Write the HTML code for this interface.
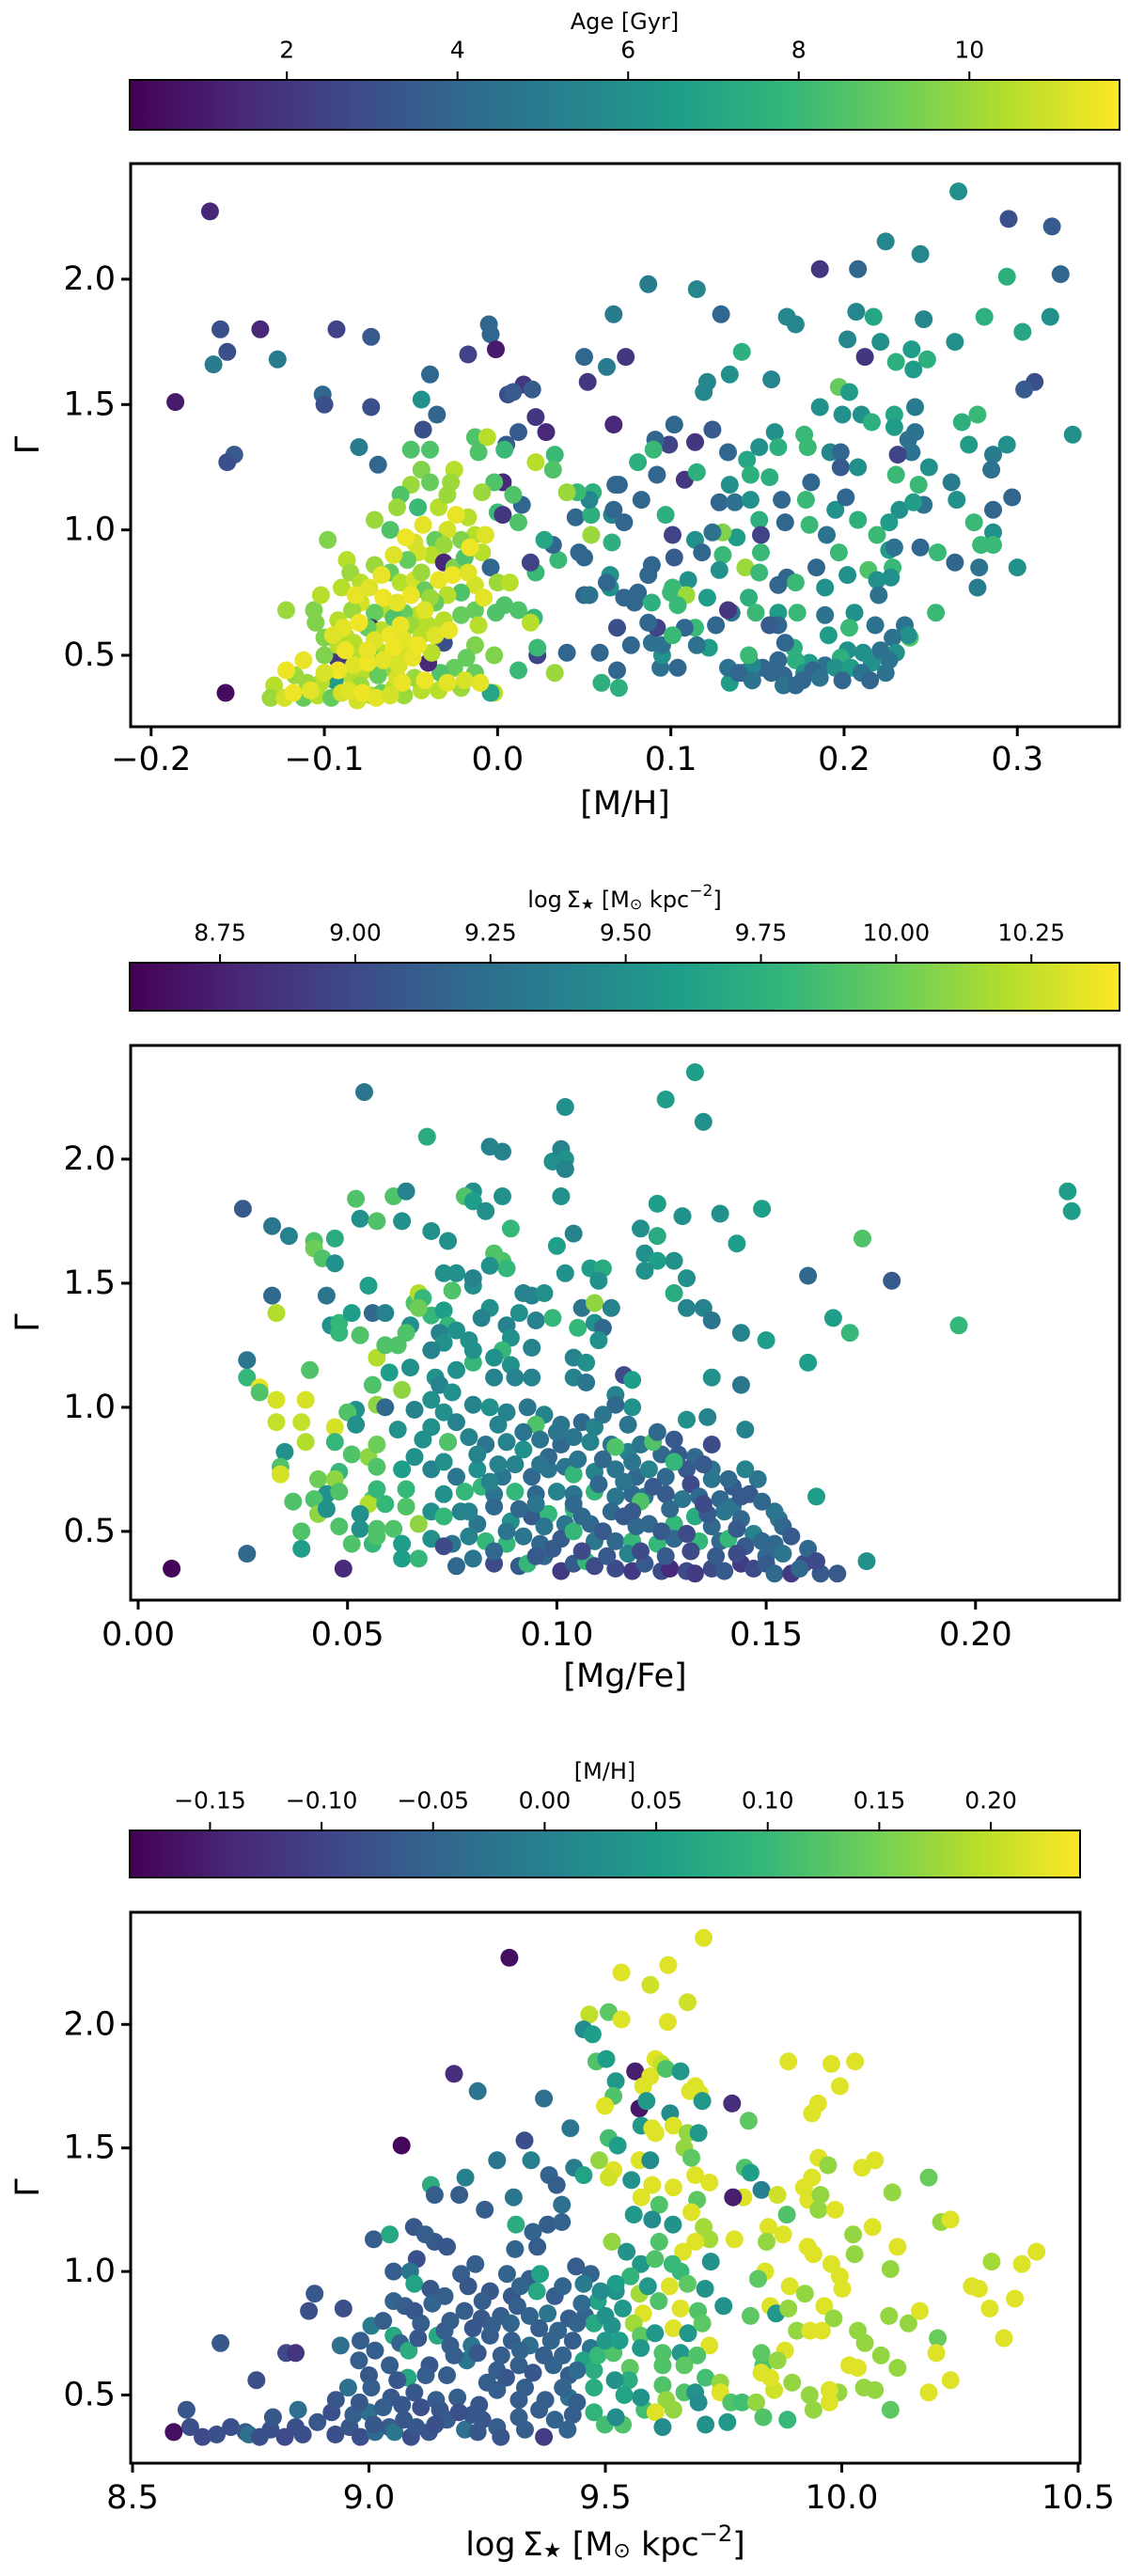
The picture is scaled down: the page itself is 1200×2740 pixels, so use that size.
<!DOCTYPE html>
<html><head><meta charset="utf-8">
<style>
html,body{margin:0;padding:0;background:#fff;}
svg{display:block;font-family:"DejaVu Sans","Liberation Sans",sans-serif;}
</style></head>
<body>
<svg id="fig" width="1200" height="2740" viewBox="0 0 1200 2740" xmlns="http://www.w3.org/2000/svg">
<defs>
<linearGradient id="viridis" x1="0" x2="1" y1="0" y2="0">
<stop offset="0" stop-color="#440154"/><stop offset="0.111" stop-color="#482878"/><stop offset="0.222" stop-color="#3e4989"/><stop offset="0.333" stop-color="#31688e"/><stop offset="0.444" stop-color="#26828e"/><stop offset="0.556" stop-color="#1f9e89"/><stop offset="0.667" stop-color="#35b779"/><stop offset="0.778" stop-color="#6ece58"/><stop offset="0.889" stop-color="#b5de2b"/><stop offset="1" stop-color="#fde725"/>
</linearGradient>
</defs>
</svg>
<script>
// ---------- data ----------
// Panel 1: [M/H], Gamma, Age
const p1Points = [
[-0.166,2.27,1.5],[-0.186,1.51,1],[-0.157,0.35,0.5],[-0.160,1.80,3],[-0.156,1.71,3],[-0.164,1.66,5],[-0.152,1.30,3.5],[-0.156,1.27,3],[-0.137,1.80,1.5],[-0.127,1.68,5],
[-0.093,1.80,2.5],[-0.073,1.77,3.5],[-0.101,1.54,4],[-0.100,1.50,3],[-0.073,1.49,3],[-0.080,1.33,5],[-0.069,1.26,4],[-0.039,1.62,4],[-0.044,1.52,6],[-0.035,1.46,4],
[-0.043,1.40,3],[-0.005,1.82,4],[-0.004,1.78,4],[-0.001,1.72,1],[-0.017,1.70,2.5],[0.015,1.58,2],[0.006,1.54,3],[0.009,1.55,3.5],[0.020,1.56,3.5],[0.022,1.45,2],
[0.028,1.39,1.5],[0.012,1.39,3.5],[0.005,1.34,3.5],[0.050,1.69,4],[0.052,1.59,2],[0.063,1.65,5],[0.074,1.69,2],[0.067,1.42,1.5],[0.087,1.98,5],[0.115,1.96,5.5],
[0.067,1.86,5],[0.129,1.86,4],[0.167,1.85,5.5],[0.172,1.82,5.5],[0.186,2.04,2],[0.208,2.04,4],[0.224,2.15,5.5],[0.244,2.10,5.5],[0.266,2.35,6],[0.295,2.24,3],
[0.320,2.21,3.5],[0.325,2.02,4],[0.294,2.01,7.5],[0.281,1.85,7.5],[0.303,1.79,7],[0.319,1.85,6],[0.310,1.59,3],[0.304,1.56,3.5],[0.332,1.38,6],[0.264,1.75,6],
[0.246,1.84,5.5],[0.207,1.87,5.5],[0.217,1.85,7],[0.202,1.76,5.5],[0.221,1.75,6],[0.212,1.69,2],[0.230,1.67,7.5],[0.239,1.72,6.5],[0.240,1.64,6.5],[0.248,1.68,7.5],
[0.141,1.71,7.5],[0.134,1.62,6],[0.121,1.59,5.5],[0.119,1.55,5.5],[0.158,1.60,5.5],[0.197,1.57,9],[0.203,1.55,6.5],[0.186,1.49,6],[0.199,1.46,6],[0.210,1.46,6],
[0.216,1.43,7.5],[0.229,1.46,7],[0.241,1.49,5],[0.229,1.41,6.5],[0.241,1.39,4.5],[0.237,1.36,4.5],[0.239,1.31,4.5],[0.231,1.30,2.5],[0.249,1.25,6],[0.268,1.43,7.5],
[0.277,1.46,8],[0.272,1.34,6.5],[0.294,1.34,6],[0.286,1.30,5],[0.285,1.24,4.5],[0.262,1.19,5],[0.265,1.12,6],[0.297,1.13,4],[0.286,1.08,4],[0.275,1.03,8],
[0.286,0.99,6],[0.279,0.94,8],[0.286,0.94,8],[0.300,0.85,6],[0.278,0.85,4.5],[0.264,0.87,4],[0.277,0.77,5],[0.254,0.91,8],[0.253,0.67,8],[0.238,0.57,8.5],[0.244,0.93,4],
[0.133,1.31,4],[0.151,1.33,6],[0.160,1.39,6],[0.162,1.33,7.5],[0.177,1.38,8],[0.179,1.33,8],[0.124,1.40,3.5],[0.114,1.35,2],[0.102,1.42,4],[0.099,1.34,2.5],
[0.091,1.36,4],[0.092,1.22,4],[0.070,1.18,4],[0.108,1.20,2],[0.115,1.23,7.5],[0.081,1.27,7.5],[0.090,1.32,8],[0.144,1.28,7],[0.146,1.22,7.5],[0.157,1.21,7.5],
[0.134,1.18,6],[0.181,1.19,4],[0.192,1.31,5.5],[0.198,1.31,4],[0.198,1.25,3.5],[0.208,1.25,6],[0.230,1.22,8],[0.243,1.18,8],[0.128,1.11,4],[0.137,1.11,4.5],
[0.146,1.12,6],[0.164,1.12,4],[0.178,1.12,8],[0.195,1.08,6],[0.201,1.13,4],[0.208,1.04,7.5],[0.232,1.08,6],[0.246,1.10,4.5],[0.240,1.11,6.5],[0.226,1.03,6.5],
[0.151,1.04,7.5],[0.166,1.03,4],[0.152,0.98,2.5],[0.138,0.97,6.5],[0.130,0.99,9.5],[0.124,0.99,4.5],[0.114,0.96,6],[0.101,0.98,2.5],[0.097,1.06,7.5],[0.066,0.95,7.5],
[0.054,0.98,10],[0.047,0.91,4],[0.050,0.89,4],[0.045,1.05,4],[0.054,1.06,7.5],[0.066,1.06,5.5],[0.073,1.03,4],[0.067,1.08,4],[0.083,1.12,4],[0.055,1.15,7.5],
[0.053,1.12,5.5],[0.068,1.18,4],[0.046,1.15,8],[0.180,1.02,8],[0.190,0.98,4.5],[0.197,0.91,8],[0.219,0.98,8],[0.226,0.92,6.5],[0.229,0.93,4.5],[0.118,0.91,4],
[0.102,0.89,3.5],[0.130,0.90,8],[0.152,0.91,8],[0.143,0.85,10],[0.151,0.83,8],[0.128,0.84,6],[0.167,0.81,4],[0.172,0.79,8],[0.162,0.78,4],[0.184,0.85,4],
[0.202,0.82,6],[0.214,0.84,8.5],[0.219,0.80,6],[0.228,0.85,8],[0.227,0.81,6],[0.110,0.80,6],[0.101,0.77,8],[0.089,0.86,4],[0.087,0.82,4],[0.081,0.75,4],
[0.065,0.82,6],[0.065,0.77,6],[0.063,0.79,4],[0.073,0.73,4],[0.079,0.71,4],[0.050,0.74,4],[0.053,0.74,4.5],[0.089,0.71,7.5],[0.100,0.75,8],[0.109,0.74,10],
[0.104,0.70,8],[0.121,0.73,6.5],[0.145,0.73,7.5],[0.135,0.67,4.5],[0.149,0.67,8],[0.162,0.67,6.5],[0.173,0.67,8],[0.189,0.77,6],[0.189,0.66,4.5],[0.206,0.67,6],
[0.220,0.74,4.5],[0.218,0.62,4.5],[0.235,0.62,4.5],[0.237,0.58,6],[0.228,0.57,4.5],[0.230,0.51,6],[0.226,0.48,4.5],[0.224,0.43,4.5],[0.216,0.47,6],[0.211,0.51,6],
[0.202,0.52,6],[0.198,0.49,7.5],[0.203,0.61,8],[0.191,0.58,6.5],[0.189,0.46,4.5],[0.195,0.45,6],[0.204,0.45,6.5],[0.180,0.47,6.5],[0.172,0.48,7.5],[0.171,0.53,7.5],
[0.166,0.55,4],[0.162,0.48,4],[0.165,0.42,4],[0.165,0.38,4.5],[0.172,0.38,4],[0.177,0.43,6],[0.162,0.62,4],[0.157,0.62,3.5],[0.153,0.45,4],[0.141,0.43,4],
[0.147,0.46,5.5],[0.134,0.39,6.5],[0.133,0.45,4.5],[0.133,0.68,2],[0.145,0.50,8],[0.126,0.62,4],[0.122,0.53,6.5],[0.115,0.54,4.5],[0.114,0.61,8],[0.108,0.61,4],
[0.104,0.45,4],[0.094,0.45,4.5],[0.095,0.50,6],[0.095,0.54,4.5],[0.089,0.55,4.5],[0.092,0.61,2.5],[0.087,0.63,4],[0.101,0.58,8],[0.077,0.54,4],[0.069,0.61,3],
[0.069,0.44,4],[0.059,0.51,4],[0.060,0.39,7.5],[0.070,0.37,7.5],[0.040,0.51,4],[0.023,0.50,2.5],[0.012,0.44,8],[0.023,0.53,8],[0.033,0.43,10],[0.021,0.65,8],
[0.022,0.83,8],[0.019,0.87,2.5],[0.035,0.88,8],[0.032,0.94,4],[0.027,0.96,7],[0.040,1.15,10],[0.033,1.30,8],[0.022,1.27,10.5],[0.032,1.24,8.5],[0.014,1.10,4],
[0.182,0.44,4],[0.186,0.41,4.5],[0.176,0.40,4],[0.199,0.40,4],[0.210,0.43,4.5],[0.215,0.40,4],[0.221,0.52,4.5],[0.158,0.43,4],[0.147,0.40,4.5],[0.139,0.43,4],
[-0.050,1.32,8.5],[-0.039,1.32,8.5],[-0.044,1.24,9.5],[-0.050,1.18,10],[-0.039,1.19,9],[-0.056,1.14,8.5],[-0.046,1.09,8],[-0.058,1.09,10],[-0.034,1.09,10.5],[-0.029,1.14,10],
[-0.025,1.24,10.5],[-0.027,1.19,10],[-0.013,1.37,8.5],[-0.006,1.37,10.5],[-0.011,1.31,8.5],[0.004,1.32,8],[0.003,1.19,1.5],[-0.002,1.19,8.5],[-0.009,1.15,10],[0.009,1.14,8.5],
[0.000,1.07,8],[0.003,1.06,2],[0.012,1.03,8.5],[-0.017,1.05,10.5],[-0.013,0.98,10.5],[-0.021,0.96,9.5],[-0.029,1.00,11],[-0.036,0.96,9],[-0.038,0.90,10.5],[-0.031,0.94,10],
[-0.048,0.95,11],[-0.046,0.91,11],[-0.052,0.88,9],[-0.062,1.00,8.5],[-0.071,1.04,10],[-0.098,0.96,9.5],[-0.087,0.88,10.5],[-0.085,0.83,10],[-0.079,0.79,10.5],[-0.090,0.77,10.5],
[-0.071,0.86,10],[-0.062,0.83,9],[-0.056,0.79,10.5],[-0.048,0.80,11],[-0.044,0.83,10],[-0.042,0.76,9],[-0.031,0.87,1.5],[-0.025,0.85,9.5],[-0.019,0.89,8.5],[-0.009,0.91,10.5],
[-0.004,0.85,4],[0.000,0.79,10],[0.007,0.79,10.5],[-0.013,0.78,11],[-0.021,0.75,8.5],[-0.029,0.74,10.5],[-0.036,0.71,9],[-0.039,0.73,10],[-0.046,0.66,10.5],[-0.054,0.67,9],
[-0.063,0.68,10.5],[-0.071,0.67,9],[-0.079,0.71,11],[-0.084,0.68,10],[-0.092,0.64,10.5],[-0.106,0.68,9.5],[-0.105,0.63,9.5],[-0.122,0.68,10],[-0.073,0.61,1.5],[-0.067,0.60,10.5],
[-0.060,0.65,8.5],[-0.050,0.62,10],[-0.040,0.62,10.5],[-0.031,0.64,10.5],[-0.021,0.66,9],[-0.013,0.68,9],[-0.011,0.62,10.5],[-0.001,0.67,8.5],[0.004,0.70,8.5],[0.012,0.68,8.5],
[0.019,0.63,10.5],[-0.013,0.54,9.5],[-0.018,0.49,9],[-0.025,0.45,9],[-0.033,0.43,8.5],[-0.031,0.55,3],[-0.040,0.47,1.5],[-0.038,0.51,10.5],[-0.044,0.58,10.5],[-0.050,0.53,11],
[-0.058,0.50,11],[-0.067,0.51,10.5],[-0.065,0.45,10],[-0.073,0.49,9],[-0.081,0.50,10.5],[-0.092,0.48,2],[-0.100,0.50,9.5],[-0.083,0.55,10.5],[-0.092,0.54,10.5],[-0.077,0.44,10.5],
[-0.085,0.42,10.5],[-0.094,0.40,6.5],[-0.102,0.39,10.5],[-0.110,0.39,10],[-0.117,0.42,10],[-0.129,0.38,10.5],[-0.131,0.33,10],[-0.123,0.33,11],[-0.112,0.33,9],[-0.104,0.34,10.5],
[-0.096,0.33,9],[-0.090,0.35,11],[-0.081,0.32,11],[-0.073,0.34,10.5],[-0.067,0.35,9],[-0.060,0.37,10.5],[-0.054,0.34,10],[-0.044,0.36,10.5],[-0.034,0.36,10.5],[-0.021,0.37,10],
[-0.013,0.43,9],[-0.002,0.35,10.5],[-0.004,0.35,7],[-0.002,0.50,9.5],[-0.079,0.38,10],[-0.069,0.42,9],[-0.058,0.41,11],[-0.048,0.41,10],[-0.075,0.61,9],[-0.088,0.58,10.5],
[-0.100,0.57,9.5],[-0.102,0.74,10.5],
[-0.086,0.36,11.2],[-0.078,0.35,11.5],[-0.070,0.33,11.3],[-0.062,0.34,11],[-0.055,0.39,11.4],[-0.083,0.46,11.2],[-0.075,0.47,11.5],[-0.066,0.48,11.3],[-0.057,0.46,11.1],[-0.049,0.49,11.4],
[-0.089,0.61,11.3],[-0.080,0.63,11.5],[-0.071,0.56,11.2],[-0.062,0.58,11.5],[-0.054,0.56,11.3],[-0.046,0.54,11.5],[-0.036,0.58,11.2],[-0.028,0.60,11.4],[-0.082,0.74,11.4],[-0.074,0.77,11.2],
[-0.066,0.73,11.5],[-0.058,0.71,11.3],[-0.050,0.74,11.5],[-0.042,0.68,11.2],[-0.034,0.80,11.4],[-0.026,0.82,11.5],[-0.017,0.83,11.2],[-0.008,0.73,11.3],[-0.067,0.82,11.4],[-0.060,0.90,11.2],
[-0.053,0.97,11.5],[-0.043,1.02,11.3],[-0.024,1.06,11.4],[-0.016,0.93,11.5],[-0.007,0.98,11.2],[-0.092,0.44,11.5],[-0.108,0.36,11.3],[-0.118,0.35,11.5],[-0.100,0.43,11.1],[-0.056,0.62,11.4],
[-0.042,0.40,11.5],[-0.029,0.39,11.3],[-0.019,0.40,11.1],[-0.010,0.39,11.3],[-0.060,0.53,11.5],[-0.075,0.52,11.4],[-0.088,0.52,11.5],[-0.095,0.58,11.2],[-0.112,0.48,11.4],[-0.122,0.44,11.5]
];
// Panel 2: [Mg/Fe], Gamma, log Sigma
const p2Points = [
[0.008,0.35,8.6],[0.049,0.35,8.8],[0.026,0.41,9.2],[0.025,1.80,9.1],[0.032,1.73,9.3],[0.036,1.69,9.4],[0.032,1.45,9.2],[0.033,1.38,10.2],[0.026,1.19,9.3],[0.026,1.12,9.8],
[0.029,1.08,10.35],[0.029,1.06,9.9],[0.033,1.03,10.3],[0.040,1.03,10.3],[0.033,0.94,10.25],[0.039,0.94,10.25],[0.040,0.86,10.2],[0.035,0.82,9.5],[0.034,0.76,9.9],[0.034,0.73,10.3],
[0.037,0.62,9.9],[0.039,0.50,9.9],[0.039,0.43,9.6],[0.042,1.67,9.9],[0.042,1.64,10.0],[0.044,1.60,9.9],[0.047,1.68,9.7],[0.047,1.58,9.5],[0.045,1.45,9.3],[0.046,1.33,9.5],
[0.048,1.34,9.8],[0.048,1.30,9.8],[0.041,1.15,9.9],[0.052,1.84,9.9],[0.053,1.76,9.5],[0.054,2.27,9.3],[0.057,1.75,9.9],[0.061,1.85,9.9],[0.064,1.87,9.4],[0.063,1.75,9.5],
[0.055,1.49,9.6],[0.051,1.38,9.6],[0.056,1.38,9.2],[0.059,1.38,9.4],[0.053,1.29,9.9],[0.057,1.20,10.2],[0.059,1.25,9.9],[0.062,1.25,9.9],[0.060,1.14,9.6],[0.056,1.09,9.9],
[0.057,1.01,10.1],[0.059,1.00,9.2],[0.052,0.99,9.5],[0.050,0.98,9.9],[0.052,0.93,9.5],[0.047,0.92,10.3],[0.047,0.86,9.8],[0.051,0.81,9.9],[0.055,0.80,10.1],[0.057,0.85,10.0],
[0.057,0.76,9.9],[0.048,0.74,9.8],[0.043,0.71,10.0],[0.047,0.71,10.1],[0.045,0.65,9.5],[0.048,0.66,9.9],[0.042,0.63,9.9],[0.043,0.57,10.1],[0.045,0.59,9.5],[0.048,0.52,9.9],
[0.051,0.45,9.9],[0.056,0.45,9.8],[0.056,0.63,9.9],[0.055,0.61,10.2],[0.059,0.61,9.8],[0.057,0.67,9.8],[0.053,0.57,9.5],[0.053,0.51,9.5],[0.057,0.51,9.9],[0.061,0.51,9.9],
[0.057,0.48,9.9],[0.063,0.45,9.6],[0.063,0.39,9.6],[0.067,0.39,9.8],[0.064,0.60,9.9],[0.064,0.67,9.8],[0.067,0.53,10.1],[0.063,0.75,9.6],[0.066,0.80,9.5],[0.062,0.91,9.5],
[0.066,0.99,9.4],[0.063,1.07,10.1],[0.065,1.16,9.5],[0.065,1.33,9.5],[0.064,1.30,9.9],[0.066,1.42,9.9],[0.067,1.46,10.2],[0.068,1.44,9.8],[0.070,1.37,9.8],[0.067,1.40,10.0],
[0.069,2.09,9.7],[0.070,1.71,9.5],[0.074,1.67,9.5],[0.073,1.54,9.5],[0.076,1.54,9.5],[0.080,1.49,9.5],[0.080,1.52,9.4],[0.075,1.47,9.9],[0.073,1.39,9.6],[0.074,1.33,9.8],
[0.072,1.30,9.4],[0.076,1.31,9.5],[0.073,1.26,9.5],[0.070,1.23,9.4],[0.071,1.12,9.5],[0.072,1.09,9.4],[0.070,1.03,9.5],[0.075,1.06,9.5],[0.076,1.15,9.5],[0.080,1.18,9.8],
[0.080,1.23,9.5],[0.079,1.27,9.5],[0.080,1.87,9.5],[0.078,1.85,9.9],[0.080,1.83,9.6],[0.083,1.79,9.5],[0.084,2.05,9.4],[0.087,2.03,9.4],[0.087,1.85,9.5],[0.089,1.72,9.8],
[0.085,1.62,9.9],[0.087,1.59,9.9],[0.088,1.56,9.8],[0.084,1.57,9.5],[0.084,1.40,9.5],[0.082,1.36,9.4],[0.088,1.33,9.4],[0.089,1.28,9.5],[0.087,1.23,9.8],[0.085,1.20,9.5],
[0.089,1.17,9.5],[0.085,1.12,9.4],[0.090,1.12,9.4],[0.094,1.12,9.4],[0.094,1.24,9.4],[0.091,1.38,9.5],[0.095,1.35,9.4],[0.094,1.45,9.4],[0.092,1.46,9.4],[0.097,1.46,9.5],
[0.099,1.36,9.8],[0.099,1.99,9.5],[0.101,2.04,9.4],[0.102,2.00,9.5],[0.102,1.96,9.4],[0.102,2.21,9.5],[0.101,1.85,9.5],[0.100,1.65,9.6],[0.104,1.70,9.4],[0.102,1.54,9.5],
[0.106,1.40,9.3],[0.105,1.32,9.8],[0.108,1.56,9.6],[0.111,1.56,9.7],[0.110,1.51,9.5],[0.109,1.42,10.1],[0.109,1.34,9.5],[0.111,1.32,9.2],[0.110,1.27,9.5],[0.113,1.40,9.4],
[0.104,1.20,9.4],[0.107,1.18,9.5],[0.104,1.12,9.4],[0.107,1.10,9.3],[0.116,1.13,9.0],[0.118,1.11,9.6],[0.114,1.05,9.4],[0.118,1.00,9.5],[0.114,1.01,9.2],[0.120,1.72,9.5],
[0.124,1.69,9.7],[0.121,1.62,9.5],[0.124,1.82,9.6],[0.124,1.59,9.6],[0.128,1.59,9.5],[0.121,1.55,9.5],[0.131,1.52,9.5],[0.128,1.46,9.7],[0.130,1.77,9.5],[0.126,2.24,9.6],
[0.133,2.35,9.6],[0.135,2.15,9.5],[0.139,1.78,9.5],[0.149,1.80,9.6],[0.143,1.66,9.6],[0.131,1.40,9.4],[0.135,1.40,9.4],[0.137,1.35,9.3],[0.144,1.30,9.4],[0.150,1.27,9.6],
[0.137,1.12,9.5],[0.144,1.09,9.3],[0.131,0.95,9.5],[0.136,0.96,9.4],[0.145,0.91,9.4],[0.137,0.85,9.0],[0.160,1.53,9.2],[0.180,1.51,9.1],[0.166,1.36,9.6],[0.170,1.30,9.8],
[0.160,1.18,9.6],[0.173,1.68,9.9],[0.196,1.33,9.8],[0.222,1.87,9.6],[0.223,1.79,9.6],[0.162,0.64,9.6],[0.174,0.38,9.5],
[0.080,1.01,9.4],[0.084,1.00,9.5],[0.088,0.98,9.4],[0.093,1.00,9.3],[0.097,0.97,9.4],[0.101,0.93,9.3],[0.106,0.94,9.2],[0.109,0.92,9.4],[0.095,0.93,9.9],[0.073,0.98,9.5],
[0.076,0.94,9.4],[0.070,0.92,9.5],[0.068,0.87,9.5],[0.074,0.86,9.4],[0.079,0.88,9.4],[0.083,0.85,9.3],[0.088,0.86,9.4],[0.092,0.83,9.5],[0.096,0.87,9.3],[0.101,0.85,9.2],
[0.104,0.88,9.3],[0.108,0.86,9.4],[0.113,0.85,9.3],[0.117,0.82,9.4],[0.120,0.85,9.3],[0.125,0.81,9.2],[0.129,0.81,9.1],[0.133,0.80,9.2],[0.114,0.84,9.9],[0.123,0.86,9.9],
[0.074,0.86,9.9],[0.070,0.75,9.4],[0.073,0.78,9.5],[0.076,0.72,9.3],[0.081,0.75,9.5],[0.087,0.72,9.3],[0.090,0.77,9.4],[0.094,0.72,9.2],[0.098,0.75,9.3],[0.102,0.76,9.3],
[0.104,0.73,9.8],[0.109,0.74,9.4],[0.114,0.75,9.3],[0.119,0.72,9.2],[0.122,0.75,9.4],[0.126,0.72,9.2],[0.131,0.75,9.1],[0.137,0.75,9.3],[0.128,0.78,9.8],[0.145,0.75,9.4],
[0.148,0.71,9.3],[0.137,0.71,9.3],[0.132,0.69,9.0],[0.073,0.65,9.5],[0.078,0.66,9.8],[0.082,0.68,9.8],[0.085,0.65,9.3],[0.090,0.66,9.8],[0.095,0.65,9.2],[0.100,0.66,9.4],
[0.104,0.65,9.3],[0.109,0.66,9.8],[0.114,0.64,9.3],[0.118,0.65,9.2],[0.121,0.64,9.3],[0.126,0.65,9.1],[0.130,0.63,9.3],[0.134,0.64,9.2],[0.139,0.63,9.2],[0.142,0.60,9.3],
[0.146,0.65,9.1],[0.142,0.68,9.1],[0.144,0.64,9.1],[0.070,0.58,9.5],[0.073,0.56,9.8],[0.077,0.58,9.4],[0.081,0.53,9.3],[0.085,0.60,9.2],[0.089,0.54,9.5],[0.094,0.56,9.1],
[0.098,0.57,9.8],[0.102,0.53,9.3],[0.104,0.59,9.8],[0.108,0.53,9.2],[0.113,0.58,9.2],[0.116,0.56,9.1],[0.120,0.62,9.9],[0.122,0.53,9.2],[0.128,0.53,9.8],[0.133,0.56,9.7],
[0.137,0.52,9.2],[0.140,0.58,9.3],[0.144,0.55,9.2],[0.152,0.58,9.3],[0.153,0.55,9.3],[0.154,0.52,9.2],[0.147,0.49,9.4],[0.070,0.47,9.5],[0.075,0.45,9.3],[0.079,0.48,9.4],
[0.083,0.46,9.8],[0.088,0.45,9.8],[0.092,0.48,9.3],[0.096,0.45,9.2],[0.101,0.47,9.1],[0.104,0.50,9.8],[0.109,0.46,9.3],[0.114,0.46,9.2],[0.118,0.46,9.8],[0.124,0.45,9.8],
[0.128,0.47,9.2],[0.134,0.46,9.8],[0.139,0.46,9.2],[0.141,0.47,9.8],[0.145,0.44,9.1],[0.149,0.46,9.2],[0.152,0.45,9.2],[0.154,0.41,9.3],[0.150,0.40,9.2],[0.073,0.44,9.0],
[0.076,0.36,9.2],[0.080,0.39,9.3],[0.085,0.37,9.0],[0.091,0.36,9.1],[0.093,0.37,9.8],[0.097,0.40,9.2],[0.101,0.34,8.9],[0.104,0.37,9.1],[0.107,0.38,9.8],[0.109,0.36,9.0],
[0.114,0.35,9.0],[0.118,0.34,8.9],[0.121,0.37,9.1],[0.125,0.34,9.0],[0.127,0.35,8.8],[0.131,0.34,9.0],[0.133,0.33,8.9],[0.137,0.35,9.0],[0.140,0.34,9.1],[0.144,0.37,8.9],
[0.147,0.35,9.0],[0.150,0.37,9.1],[0.152,0.33,9.2],[0.156,0.33,8.9],[0.159,0.37,9.0],[0.163,0.33,9.1],[0.167,0.33,9.1],[0.158,0.35,9.2],[0.117,0.41,9.4],
[0.099,0.43,9.1],[0.106,0.42,9.0],[0.112,0.40,9.1],[0.120,0.42,9.0],[0.126,0.40,9.1],[0.132,0.42,9.0],[0.138,0.40,9.1],[0.143,0.41,9.0],[0.111,0.50,9.1],[0.119,0.52,9.2],
[0.125,0.50,9.1],[0.131,0.49,9.0],[0.136,0.57,9.1],[0.127,0.59,9.2],[0.106,0.56,9.2],[0.097,0.52,9.3],[0.091,0.59,9.2],[0.110,0.69,9.2],[0.116,0.70,9.3],[0.123,0.68,9.1],
[0.105,0.79,9.3],[0.111,0.79,9.2],[0.118,0.78,9.3],[0.098,0.80,9.2],[0.092,0.90,9.3],[0.100,0.90,9.3],[0.086,0.93,9.4],[0.111,0.97,9.3],[0.117,0.93,9.3],[0.124,0.90,9.2],
[0.128,0.87,9.1],[0.135,0.77,9.1],[0.141,0.71,9.2],[0.149,0.62,9.2],[0.156,0.48,9.1],[0.160,0.43,9.2],[0.162,0.38,9.0],[0.143,0.51,9.1],[0.135,0.61,9.0],[0.081,0.81,9.4],
[0.086,0.77,9.4],[0.096,0.77,9.3],[0.084,0.70,9.4],[0.095,0.61,9.3],[0.088,0.50,9.3],[0.079,0.58,9.4],[0.085,0.42,9.2],[0.095,0.40,9.1],[0.104,0.61,9.2],[0.118,0.58,9.1]
];
// Panel 3: log Sigma, Gamma, [M/H]
const p3Points = [
[9.297,2.27,-0.17],[9.069,1.51,-0.18],[9.180,1.80,-0.13],[9.230,1.73,-0.02],[9.370,1.70,-0.03],[9.329,1.53,-0.08],[9.426,1.58,-0.02],[9.271,1.45,-0.02],[9.343,1.45,0.0],[9.204,1.38,0.0],
[9.131,1.35,0.08],[9.139,1.31,-0.06],[9.191,1.31,-0.06],[9.245,1.25,-0.06],[9.306,1.30,-0.02],[9.381,1.39,-0.05],[9.397,1.35,-0.06],[9.434,1.42,-0.01],[9.454,1.39,0.06],[9.408,1.27,-0.03],
[9.311,1.19,0.08],[9.309,1.09,-0.05],[9.347,1.16,-0.05],[9.378,1.19,-0.06],[9.408,1.20,-0.05],[9.356,1.10,-0.06],[9.095,1.18,-0.07],[9.139,1.12,-0.07],[9.165,1.10,-0.07],[9.119,1.15,-0.06],
[9.010,1.13,-0.06],[9.044,1.15,0.07],[9.101,1.05,-0.08],[9.052,1.00,-0.06],[9.087,1.00,-0.02],[9.096,0.95,0.06],[9.130,0.93,-0.07],[9.195,0.99,-0.06],[9.225,1.03,-0.06],[9.210,0.94,-0.07],
[9.256,0.92,-0.07],[9.292,0.99,-0.05],[9.302,0.90,-0.07],[9.340,0.97,-0.06],[9.362,0.99,0.06],[9.355,0.92,0.07],[9.393,0.90,-0.06],[9.438,1.02,-0.06],[9.469,0.99,-0.05],[9.454,0.95,-0.01],
[9.484,0.88,0.06],[9.522,0.92,0.03],[9.052,0.88,-0.05],[9.076,0.86,-0.06],[9.096,0.84,-0.07],[9.134,0.87,-0.05],[9.172,0.80,-0.06],[9.202,0.84,-0.06],[9.238,0.81,-0.07],[9.279,0.82,-0.06],
[9.314,0.86,-0.06],[9.340,0.82,-0.05],[9.378,0.83,-0.02],[9.423,0.81,-0.06],[9.457,0.82,-0.05],[9.476,0.79,0.07],[8.885,0.91,-0.07],[8.873,0.84,-0.08],[8.946,0.85,-0.08],[9.005,0.78,-0.01],
[9.052,0.74,0.07],[8.940,0.70,-0.03],[8.982,0.72,-0.06],[9.013,0.68,-0.06],[9.066,0.71,-0.05],[9.084,0.68,0.08],[9.104,0.73,-0.07],[9.145,0.74,0.07],[9.172,0.70,-0.06],[9.217,0.70,-0.02],
[9.256,0.74,-0.06],[9.302,0.72,-0.06],[9.340,0.70,-0.03],[9.385,0.72,-0.05],[9.431,0.72,-0.06],[9.469,0.69,-0.02],[8.686,0.71,-0.07],[8.825,0.67,-0.09],[8.845,0.67,-0.12],[8.762,0.56,-0.08],
[8.979,0.64,-0.06],[9.000,0.58,-0.07],[9.082,0.57,0.07],[9.044,0.62,-0.06],[9.128,0.62,-0.07],[9.165,0.58,-0.06],[9.207,0.64,-0.02],[9.271,0.60,-0.06],[9.317,0.62,-0.06],[9.347,0.59,-0.07],
[9.390,0.62,-0.05],[9.423,0.58,-0.06],[9.454,0.64,0.06],[9.476,0.60,0.08],[8.956,0.53,-0.03],[9.005,0.53,-0.06],[9.047,0.49,-0.07],[9.096,0.51,-0.07],[9.142,0.48,-0.06],[9.187,0.49,-0.06],
[9.233,0.46,-0.07],[9.271,0.52,-0.06],[9.317,0.48,-0.06],[9.373,0.48,-0.06],[9.423,0.49,-0.03],[9.476,0.53,0.08],[8.614,0.44,-0.07],[8.622,0.37,-0.08],[8.587,0.35,-0.17],[8.648,0.33,-0.09],
[8.678,0.34,-0.08],[8.708,0.37,-0.08],[8.739,0.35,-0.07],[8.746,0.34,-0.03],[8.769,0.33,-0.08],[8.792,0.36,-0.08],[8.797,0.41,-0.07],[8.822,0.33,-0.09],[8.845,0.37,-0.08],[8.850,0.44,-0.03],
[8.860,0.34,-0.08],[8.891,0.39,-0.07],[8.921,0.43,-0.08],[8.929,0.34,-0.08],[8.959,0.37,-0.07],[8.967,0.42,-0.06],[9.000,0.43,-0.03],[8.982,0.33,-0.08],[9.013,0.35,-0.04],[9.043,0.37,-0.06],
[9.054,0.35,-0.02],[9.074,0.40,-0.07],[9.089,0.33,-0.08],[9.127,0.35,-0.07],[9.165,0.40,-0.06],[9.203,0.36,-0.03],[9.218,0.42,-0.07],[9.271,0.37,-0.06],[9.279,0.33,-0.07],[9.317,0.41,-0.06],
[9.370,0.33,-0.11],[9.393,0.40,-0.05],[9.431,0.42,-0.06],[9.476,0.43,0.09],[9.499,0.38,0.11],[9.537,0.38,0.12],
[9.466,2.04,0.20],[9.507,2.05,0.13],[9.534,2.02,0.22],[9.454,1.98,0.02],[9.473,1.96,0.05],[9.534,2.21,0.22],[9.595,2.16,0.21],[9.633,2.24,0.22],[9.708,2.35,0.22],[9.674,2.09,0.21],
[9.632,2.01,0.22],[9.481,1.85,0.12],[9.502,1.86,0.05],[9.522,1.77,0.04],[9.517,1.71,0.12],[9.499,1.67,0.22],[9.563,1.81,-0.15],[9.580,1.75,0.22],[9.595,1.79,0.22],[9.606,1.86,0.22],
[9.619,1.84,0.20],[9.628,1.82,0.12],[9.659,1.81,0.04],[9.572,1.66,-0.16],[9.587,1.69,0.04],[9.576,1.59,0.04],[9.599,1.58,0.22],[9.637,1.64,0.02],[9.644,1.59,0.22],[9.606,1.56,0.22],
[9.674,1.56,0.17],[9.697,1.56,0.04],[9.679,1.73,0.22],[9.690,1.75,0.22],[9.700,1.72,0.22],[9.705,1.69,0.04],[9.768,1.68,-0.13],[9.803,1.61,0.13],[9.507,1.54,0.11],[9.526,1.51,0.05],
[9.487,1.45,0.17],[9.517,1.41,0.22],[9.507,1.38,0.21],[9.572,1.45,0.22],[9.595,1.45,0.02],[9.667,1.50,0.17],[9.682,1.46,0.13],[9.690,1.39,0.22],[9.720,1.36,0.22],[9.555,1.37,0.03],
[9.599,1.35,0.22],[9.576,1.30,0.22],[9.644,1.34,0.22],[9.614,1.27,0.12],[9.694,1.29,0.13],[9.682,1.24,0.22],[9.560,1.23,0.04],[9.599,1.21,0.02],[9.643,1.19,0.03],[9.708,1.18,0.18],
[9.720,1.13,0.18],[9.690,1.12,0.22],[9.664,1.08,0.22],[9.614,1.12,0.12],[9.514,1.12,0.17],[9.545,1.08,0.03],[9.575,1.03,0.04],[9.605,1.05,0.12],[9.642,1.03,0.10],[9.659,1.00,0.10],
[9.723,1.04,0.03],[9.553,0.98,0.09],[9.522,0.95,0.05],[9.572,0.91,0.18],[9.590,0.94,0.04],[9.636,0.94,0.22],[9.674,0.95,0.13],[9.711,0.93,0.03],[9.613,0.88,0.12],[9.659,0.85,0.22],
[9.580,0.83,0.22],[9.696,0.84,0.12],[9.750,0.86,0.03],[9.537,0.85,0.04],[9.514,0.78,0.03],[9.560,0.79,0.18],[9.644,0.77,0.22],[9.675,0.75,0.04],[9.705,0.79,0.13],[9.720,0.70,0.22],
[9.575,0.74,0.13],[9.605,0.75,0.04],[9.484,0.66,0.10],[9.517,0.67,0.12],[9.575,0.69,0.04],[9.621,0.67,0.12],[9.659,0.67,0.04],[9.694,0.66,0.12],[9.552,0.61,0.13],[9.621,0.62,0.12],
[9.667,0.62,0.13],[9.712,0.57,0.11],[9.743,0.55,0.17],[9.621,0.54,0.12],[9.667,0.51,0.12],[9.629,0.48,0.17],[9.583,0.44,0.11],[9.606,0.43,0.22],[9.644,0.44,0.17],[9.690,0.51,0.03],
[9.697,0.47,0.02],[9.743,0.51,0.22],[9.766,0.47,0.12],[9.789,0.47,0.11],[9.819,0.47,0.17],[9.758,0.39,0.04],[9.712,0.38,0.03],[9.621,0.37,0.02],[9.575,0.49,0.03],[9.522,0.41,0.02],
[9.885,0.40,0.10],[9.834,0.41,0.12],[9.834,0.62,0.12],[9.857,0.52,0.21],
[9.792,1.30,0.22],[9.773,1.13,0.22],[9.770,1.30,-0.15],[9.830,1.33,0.0],[9.864,1.31,0.21],[9.795,1.42,0.12],[9.807,1.40,0.05],[9.887,1.85,0.22],[9.978,1.84,0.22],[10.028,1.85,0.22],
[9.996,1.75,0.22],[9.937,1.64,0.22],[9.950,1.68,0.22],[9.951,1.46,0.22],[9.971,1.43,0.17],[10.043,1.42,0.22],[10.070,1.45,0.22],[10.184,1.38,0.14],[10.107,1.32,0.17],[10.210,1.20,0.17],
[10.230,1.21,0.22],[9.884,1.23,0.12],[9.845,1.18,0.22],[9.876,1.15,0.22],[9.920,1.34,0.22],[9.929,1.29,0.22],[9.955,1.31,0.17],[9.951,1.25,0.17],[9.986,1.25,0.22],[9.937,1.38,0.22],
[10.024,1.15,0.17],[10.065,1.18,0.22],[9.841,1.12,0.17],[9.928,1.10,0.22],[9.940,1.07,0.22],[10.027,1.07,0.17],[10.118,1.10,0.22],[9.978,1.03,0.22],[9.996,0.98,0.22],[10.001,0.93,0.22],
[10.103,1.01,0.17],[9.838,1.00,0.22],[9.823,0.97,0.13],[9.890,0.94,0.22],[9.922,0.91,0.17],[9.849,0.86,0.22],[9.861,0.83,0.04],[9.887,0.85,0.17],[9.807,0.82,0.13],[9.963,0.86,0.22],
[9.983,0.81,0.17],[9.905,0.76,0.17],[9.933,0.76,0.22],[9.958,0.76,0.22],[10.034,0.76,0.17],[10.049,0.71,0.17],[10.100,0.82,0.17],[10.141,0.79,0.17],[10.165,0.84,0.22],[10.203,0.73,0.14],
[10.200,0.67,0.22],[10.083,0.66,0.17],[10.118,0.61,0.17],[10.184,0.51,0.22],[10.230,0.56,0.22],[10.103,0.44,0.13],[10.016,0.62,0.22],[10.034,0.61,0.22],[9.993,0.51,0.17],[9.974,0.52,0.22],
[9.940,0.44,0.17],[9.974,0.47,0.22],[9.932,0.50,0.17],[9.895,0.55,0.17],[9.880,0.68,0.22],[9.864,0.64,0.17],[9.830,0.67,0.13],[9.830,0.59,0.22],[9.849,0.57,0.22],[10.047,0.53,0.17],
[10.070,0.52,0.17],[10.275,0.94,0.22],[10.290,0.93,0.22],[10.317,1.04,0.18],[10.381,1.03,0.22],[10.412,1.08,0.22],[10.313,0.85,0.22],[10.366,0.89,0.22],[10.343,0.73,0.22],
[9.110,0.45,-0.08],[9.150,0.44,-0.07],[9.190,0.43,-0.08],[9.240,0.40,-0.07],[9.250,0.55,-0.06],[9.290,0.57,-0.07],[9.330,0.53,-0.06],[9.360,0.44,-0.06],[9.410,0.53,-0.05],[9.440,0.47,-0.06],
[9.060,0.56,-0.07],[9.120,0.58,-0.06],[9.180,0.66,-0.06],[9.230,0.67,-0.07],[9.280,0.66,-0.06],[9.320,0.68,-0.05],[9.370,0.66,-0.06],[9.410,0.66,-0.05],[9.440,0.60,-0.04],[9.030,0.80,-0.06],
[9.110,0.79,-0.06],[9.160,0.76,-0.06],[9.220,0.77,-0.07],[9.260,0.78,-0.06],[9.300,0.79,-0.05],[9.360,0.77,-0.06],[9.400,0.76,-0.05],[9.440,0.79,-0.05],[9.160,0.90,-0.06],[9.240,0.88,-0.06],
[9.320,0.94,-0.05],[9.410,0.94,-0.05],[9.450,0.87,-0.04],[9.490,0.92,0.02],[9.500,0.82,0.03],[9.500,0.72,0.04],[9.530,0.72,0.05],[9.550,0.56,0.08],[9.540,0.50,0.06],[9.520,0.56,0.03],
[8.930,0.48,-0.07],[8.980,0.47,-0.07],[9.030,0.45,-0.06],[9.070,0.46,-0.07],[9.010,0.38,-0.07],[9.100,0.37,-0.07],[9.140,0.38,-0.08],[9.230,0.35,-0.07],[9.330,0.36,-0.06],[9.420,0.36,-0.05]
];
// tick labels
const p1XTicks = [-0.2,-0.1,0.0,0.1,0.2,0.3];
const p1XTickLabels = ["\u22120.2","\u22120.1","0.0","0.1","0.2","0.3"];
const p1CTicks = [2,4,6,8,10];
const p1CTickLabels = ["2","4","6","8","10"];
const p2XTicks = [0.00,0.05,0.10,0.15,0.20];
const p2XTickLabels = ["0.00","0.05","0.10","0.15","0.20"];
const p2CTicks = [8.75,9.00,9.25,9.50,9.75,10.00,10.25];
const p2CTickLabels = ["8.75","9.00","9.25","9.50","9.75","10.00","10.25"];
const p3XTicks = [8.5,9.0,9.5,10.0,10.5];
const p3XTickLabels = ["8.5","9.0","9.5","10.0","10.5"];
const p3CTicks = [-0.15,-0.10,-0.05,0.00,0.05,0.10,0.15,0.20];
const p3CTickLabels = ["\u22120.15","\u22120.10","\u22120.05","0.00","0.05","0.10","0.15","0.20"];
const yTicks = [0.5,1.0,1.5,2.0];
const yTickLabels = ["0.5","1.0","1.5","2.0"];

// ---------- rendering ----------
const NS = "http://www.w3.org/2000/svg";
const svg = document.getElementById('fig');
const VIR = ["#440154","#482878","#3e4989","#31688e","#26828e","#1f9e89","#35b779","#6ece58","#b5de2b","#fde725"];
function hex(h){return [parseInt(h.substr(1,2),16),parseInt(h.substr(3,2),16),parseInt(h.substr(5,2),16)];}
function viridis(t){
  t=Math.max(0,Math.min(1,t));
  const f=t*(VIR.length-1); const i=Math.min(VIR.length-2,Math.floor(f)); const u=f-i;
  const a=hex(VIR[i]), b=hex(VIR[i+1]);
  return "rgb("+a.map((v,k)=>Math.round(v+(b[k]-v)*u)).join(",")+")";
}
function mk(tag, attrs, parent){
  const e=document.createElementNS(NS,tag);
  for(const k in attrs) e.setAttribute(k,attrs[k]);
  (parent||svg).appendChild(e); return e;
}
function txt(s, x, y, size, anchor, parent){
  const t=mk('text',{x:x,y:y,'font-size':size,'text-anchor':anchor||'middle','dominant-baseline':'central',fill:'#000'},parent);
  t.textContent=s; return t;
}

function panel(cfg){
  const g=mk('g',{});
  
  
  const X=v=>cfg.ax[0]+(v-cfg.xlim[0])/(cfg.xlim[1]-cfg.xlim[0])*(cfg.ax[2]-cfg.ax[0]);
  const Y=v=>cfg.ax[3]-(v-cfg.ylim[0])/(cfg.ylim[1]-cfg.ylim[0])*(cfg.ax[3]-cfg.ax[1]);
  const C=v=>cfg.cb[0]+(v-cfg.clim[0])/(cfg.clim[1]-cfg.clim[0])*(cfg.cb[2]-cfg.cb[0]);
  const cbar=mk('rect',{x:cfg.cb[0],y:cfg.cb[1],width:cfg.cb[2]-cfg.cb[0],height:cfg.cb[3]-cfg.cb[1],fill:'url(#viridis)',stroke:'#000','stroke-width':2},g);
  
  
  cfg.cticks.forEach((v,i)=>{
    const cx=C(v);
    const tk=mk('line',{x1:cx,x2:cx,y1:cfg.cb[1],y2:cfg.cb[1]-9,stroke:'#000','stroke-width':2},g);
    
    
    const tl=txt(cfg.ctickLabels[i],cx,cfg.cb[1]-32,25,'middle',g);
    
    
  });
  const cl=mk('text',{x:(cfg.cb[0]+cfg.cb[2])/2,y:cfg.cbLabelY,'font-size':24,'text-anchor':'middle','dominant-baseline':'central'},g);
  cl.innerHTML=cfg.cbLabel;
  
  
  const cid='clip-'+cfg.name;
  const cp=mk('clipPath',{id:cid},g);
  mk('rect',{x:cfg.ax[0],y:cfg.ax[1],width:cfg.ax[2]-cfg.ax[0],height:cfg.ax[3]-cfg.ax[1]},cp);
  const pg=mk('g',{'clip-path':'url(#'+cid+')'},g);
  
  
  cfg.points.forEach(p=>{
    const c=mk('circle',{cx:X(p[0]).toFixed(1),cy:Y(p[1]).toFixed(1),r:9.5,fill:viridis((p[2]-cfg.clim[0])/(cfg.clim[1]-cfg.clim[0]))},pg);
    
    
  });
  const fr=mk('rect',{x:cfg.ax[0],y:cfg.ax[1],width:cfg.ax[2]-cfg.ax[0],height:cfg.ax[3]-cfg.ax[1],fill:'none',stroke:'#000','stroke-width':3},g);
  
  
  cfg.xticks.forEach((v,i)=>{
    const x=X(v);
    const tk=mk('line',{x1:x,x2:x,y1:cfg.ax[3],y2:cfg.ax[3]+10,stroke:'#000','stroke-width':3},g);
    
    
    const tl=txt(cfg.xtickLabels[i],x,cfg.xtickY,35,'middle',g);
    
    
  });
  yTicks.forEach((v,i)=>{
    const y=Y(v);
    const tk=mk('line',{x1:cfg.ax[0],x2:cfg.ax[0]-10,y1:y,y2:y,stroke:'#000','stroke-width':3},g);
    
    
    const tl=txt(yTickLabels[i],cfg.ax[0]-16,y,35,'end',g);
    
    
  });
  const xl=mk('text',{x:(cfg.ax[0]+cfg.ax[2])/2,y:cfg.xlabelY,'font-size':35,'text-anchor':'middle','dominant-baseline':'central'},g);
  xl.innerHTML=cfg.xlabel;
  
  
  const yl=txt('\u0393',30,(cfg.ax[1]+cfg.ax[3])/2,35,'middle',g);
  yl.setAttribute('transform','rotate(-90 30 '+((cfg.ax[1]+cfg.ax[3])/2)+')');
  
  
}

const sigLabel='log\u2009\u03A3<tspan font-size="22" dy="6">\u2605</tspan><tspan dy="-6"> [M</tspan><tspan font-size="22" dy="6">\u2299</tspan><tspan dy="-6"> kpc</tspan><tspan font-size="24" dy="-12">\u22122</tspan><tspan dy="12">]</tspan>';
const sigLabelSmall='log\u2009\u03A3<tspan font-size="16" dy="4">\u2605</tspan><tspan dy="-4"> [M</tspan><tspan font-size="16" dy="4">\u2299</tspan><tspan dy="-4"> kpc</tspan><tspan font-size="17" dy="-9">\u22122</tspan><tspan dy="9">]</tspan>';

panel({name:'panel-age',ax:[139,174,1191,773],xlim:[-0.2118,0.359],ylim:[0.215,2.461],
  cb:[138,85,1191,138],clim:[0.158,11.76],cticks:p1CTicks,ctickLabels:p1CTickLabels,cbLabel:'Age [Gyr]',cbLabelY:23,
  points:p1Points,xticks:p1XTicks,xtickLabels:p1XTickLabels,xtickY:808,xlabel:'[M/H]',xlabelY:855});
panel({name:'panel-mgfe',ax:[139,1112,1191,1702],xlim:[-0.0018,0.2344],ylim:[0.223,2.458],
  cb:[138,1024,1191,1075],clim:[8.583,10.413],cticks:p2CTicks,ctickLabels:p2CTickLabels,cbLabel:sigLabelSmall,cbLabelY:957,
  points:p2Points,xticks:p2XTicks,xtickLabels:p2XTickLabels,xtickY:1739,xlabel:'[Mg/Fe]',xlabelY:1783});
panel({name:'panel-sigma',ax:[139,2034,1149,2620],xlim:[8.496,10.504],ylim:[0.224,2.454],
  cb:[138,1947,1149,1997],clim:[-0.186,0.240],cticks:p3CTicks,ctickLabels:p3CTickLabels,cbLabel:'[M/H]',cbLabelY:1884,
  points:p3Points,xticks:p3XTicks,xtickLabels:p3XTickLabels,xtickY:2657,xlabel:sigLabel,xlabelY:2707});
</script>
</body></html>
